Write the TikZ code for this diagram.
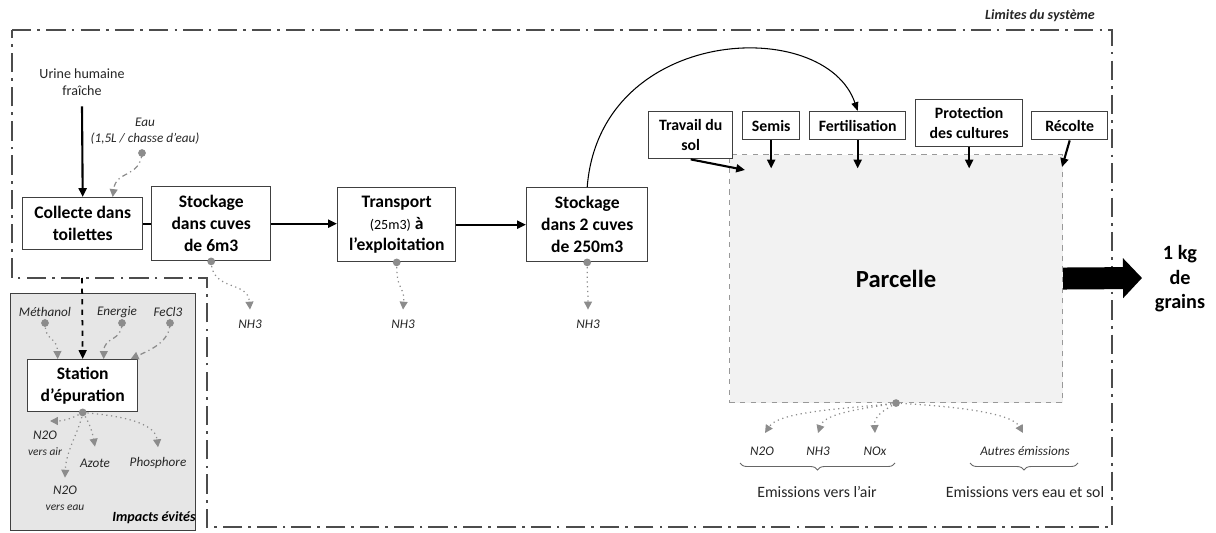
\documentclass[tikz,border=0pt]{standalone}
\usepackage{fontspec}
\setmainfont{Carlito}
\usetikzlibrary{arrows.meta,decorations.pathreplacing,calc}
\definecolor{boxline}{HTML}{404040}
\definecolor{emis}{HTML}{8C8C8C}
\definecolor{lbl}{HTML}{262626}
\definecolor{avoid}{HTML}{E6E6E6}
\definecolor{plot}{HTML}{F2F2F2}
\begin{document}
\begin{tikzpicture}[x=0.02cm,y=-0.02cm,
  wh/.style 2 args={minimum width={#1*0.02cm},minimum height={#2*0.02cm}},
  box/.style={draw=boxline,line width=0.8pt,fill=white,align=center,anchor=north west,inner sep=1pt,font=\fontsize{10}{12.5}\selectfont\bfseries},
  topbox/.style={box,font=\fontsize{9}{11.5}\selectfont\bfseries},
  lab/.style={text=lbl,font=\fontsize{7.5}{9}\selectfont\itshape,inner sep=1pt,align=center},
  flow/.style={line width=1.2pt,-{Triangle[length=5pt,width=4.5pt]}},
  emit/.style={draw=emis,line width=0.7pt,dotted,-{Triangle[length=4.5pt,width=4.5pt]}},
  emitdd/.style={draw=emis,line width=0.7pt,dash dot,-{Triangle[length=4.5pt,width=4.5pt]}},
  limit/.style={draw=black!70,line width=1.5pt,dash pattern=on 11pt off 3.5pt on 1.5pt off 3.5pt},
  brc/.style={draw=black!60,line width=0.5pt,decorate,decoration={brace,mirror,amplitude=4pt}},
]
\useasboundingbox (0,0) rectangle (1216,533);

% system boundary
\draw[limit] (12,30) -- (1112,30) -- (1112,527) -- (207,527) -- (207,278) -- (12,278) -- cycle;
\node[font=\fontsize{8}{9}\selectfont\bfseries\itshape,text=lbl] (limites) at (1040,16) {Limites du système};

% avoided impacts area
\node[draw=boxline,fill=avoid,line width=0.6pt,anchor=north west,wh={185}{237},inner sep=0pt] (avoided) at (10,293) {};
\node[font=\fontsize{8}{9}\selectfont\bfseries\itshape] (impacts) at (154,518) {Impacts évités};

% plot
\node[draw=black!40,dashed,fill=plot,line width=0.6pt,anchor=north west,wh={333}{248},font=\fontsize{14}{16}\selectfont\bfseries] (parcelle) at (729,154) {Parcelle};

% main chain
\node[box,wh={120}{52}] (collecte) at (22,197) {Collecte dans\\toilettes};
\node[box,wh={119}{74}] (stock1) at (151,186) {Stockage\\dans cuves\\de 6m3};
\node[box,wh={118}{74}] (transport) at (337,187) {Transport\\{\fontsize{8}{10}\selectfont\mdseries (25m3)} à\\l’exploitation};
\node[box,wh={121}{74}] (stock2) at (526,187) {Stockage\\dans 2 cuves\\de 250m3};
\node[box,wh={110}{52},font=\fontsize{10}{12.5}\selectfont\bfseries] (station) at (27,359) {Station\\d’épuration};

% field operations
\node[topbox,wh={84}{47}] (travail) at (648,111) {Travail du\\sol};
\node[topbox,wh={57}{28}] (semis) at (742,111) {Semis};
\node[topbox,wh={96}{28}] (fert) at (809,111) {Fertilisation};
\node[topbox,wh={107}{47}] (prot) at (915,99) {Protection\\des cultures};
\node[topbox,wh={76}{28}] (recolte) at (1031,111) {Récolte};

% output
\node[font=\fontsize{11.5}{14}\selectfont\bfseries,align=center] (grains) at (1180,279) {1 kg\\de\\grains};
\coordinate (gtip) at (1142,278);
\draw[line width=0.44cm,-{Triangle[length=0.38cm,width=0.78cm]}] (parcelle.east) -- (gtip);

% urine input
\node[lab,font=\fontsize{8}{9.5}\selectfont] (urine) at (82,82) {Urine humaine\\fraîche};
\draw[flow] ($(urine.south)+(0,9)$) -- (collecte.north);
\node[lab] (eau) at (145,131) {Eau\\(1,5L / chasse d’eau)};
\coordinate (eaudot) at (142,153);
\fill[emis] (eaudot) circle (2.2pt);
\draw[emitdd] (eaudot) .. controls (140,178) and (116,170) .. ($(collecte.north)+(30,0)$);

% chain flows
\draw[line width=1.2pt] (collecte.east) -- (collecte.east -| stock1.west);
\draw[flow] (stock1.east) -- (stock1.east -| transport.west);
\draw[flow] (transport.east) -- (transport.east -| stock2.west);
\draw[line width=0.6pt,-{Triangle[length=5pt,width=4pt]}] (stock2.north) .. controls (600,25) and (825,15) .. (fert.north);

% NH3 losses
\node[lab] (nh3a) at (250,324) {NH3};
\node[lab] (nh3b) at (403,324) {NH3};
\node[lab] (nh3c) at (588,324) {NH3};
\fill[emis] (stock1.south) circle (2.2pt);
\fill[emis] (transport.south) circle (2.2pt);
\fill[emis] (stock2.south) circle (2.2pt);
\draw[emit] (stock1.south) .. controls (212,292) and (248,280) .. ($(nh3a.north)+(0,-8)$);
\draw[emit] (transport.south) .. controls (396,292) and (405,285) .. ($(nh3b.north)+(0,-8)$);
\draw[emit] (stock2.south) .. controls (587,290) and (588,290) .. ($(nh3c.north)+(0,-8)$);

% station inputs
\coordinate (bsplit) at (82,278);
\draw[line width=1pt,dashed,-{Triangle[length=5pt,width=4.5pt]}] (bsplit) -- (station.north);
\node[lab] (meth) at (45,312) {Méthanol};
\node[lab] (energie) at (117,312) {Energie};
\node[lab] (fecl) at (168,312) {FeCl3};
\coordinate (mdot) at (45,323);
\coordinate (edot) at (122,323);
\coordinate (fdot) at (170,323);
\fill[emis] (mdot) circle (2.2pt);
\fill[emis] (edot) circle (2.2pt);
\fill[emis] (fdot) circle (2.2pt);
\draw[emit] (mdot) .. controls (45,342) and (57,336) .. ($(station.north)+(-25,0)$);
\draw[emitdd] (edot) .. controls (122,342) and (104,336) .. ($(station.north)+(21,0)$);
\draw[emitdd] (fdot) .. controls (170,342) and (150,350) .. ($(station.north)+(48,0)$);

% station outputs
\fill[emis] (station.south) circle (2.2pt);
\node[lab] (n2oair) at (45,443) {N2O\\{\fontsize{6.5}{8}\selectfont vers air}};
\node[lab] (azote) at (95,463) {Azote};
\node[lab] (phos) at (158,463) {Phosphore};
\node[lab] (n2oeau) at (65,498) {N2O\\{\fontsize{6.5}{8}\selectfont vers eau}};
\draw[emit] (station.south) .. controls (72,419) and (62,421) .. (50,421);
\draw[emit] (station.south) .. controls (88,420) and (92,430) .. ($(azote.north)+(0,-10)$);
\draw[emit] (station.south) .. controls (110,415) and (155,420) .. ($(phos.north)+(0,-8)$);
\draw[emit] (station.south) .. controls (80,430) and (66,450) .. ($(n2oeau.north)+(0,-6)$);

% field operations flows
\coordinate (ptrav) at (745,170);
\coordinate (prec) at (1062,167);
\draw[flow] (travail.south) -- (ptrav);
\draw[flow] (semis.south) -- ++(0,28);
\draw[flow] (fert.south) -- ++(0,28);
\draw[flow] (prot.south) -- ++(0,21);
\draw[flow] (recolte.south) -- (prec);

% field emissions
\fill[emis] (parcelle.south) circle (2.2pt);
\node[lab] (pn2o) at (762,451) {N2O};
\node[lab] (pnh3) at (818,451) {NH3};
\node[lab] (pnox) at (875,451) {NOx};
\node[lab] (autres) at (1025,451) {Autres émissions};
\draw[emit] (parcelle.south) .. controls (860,408) and (780,410) .. (765,433);
\draw[emit] (parcelle.south) .. controls (870,408) and (825,412) .. (818,433);
\draw[emit] (parcelle.south) .. controls (885,410) and (874,415) .. (875,433);
\draw[emit] (parcelle.south) .. controls (930,405) and (1010,410) .. (1023,433);
\coordinate (b1a) at (740,463);
\coordinate (b1b) at (895,463);
\coordinate (b2a) at (970,463);
\coordinate (b2b) at (1078,463);
\draw[brc] (b1a) -- (b1b);
\draw[brc] (b2a) -- (b2b);
\node[text=lbl,font=\fontsize{9}{11}\selectfont] (eair) at (817,492) {Emissions vers l’air};
\node[text=lbl,font=\fontsize{9}{11}\selectfont] (esol) at (1025,492) {Emissions vers eau et sol};
\end{tikzpicture}
\end{document}
